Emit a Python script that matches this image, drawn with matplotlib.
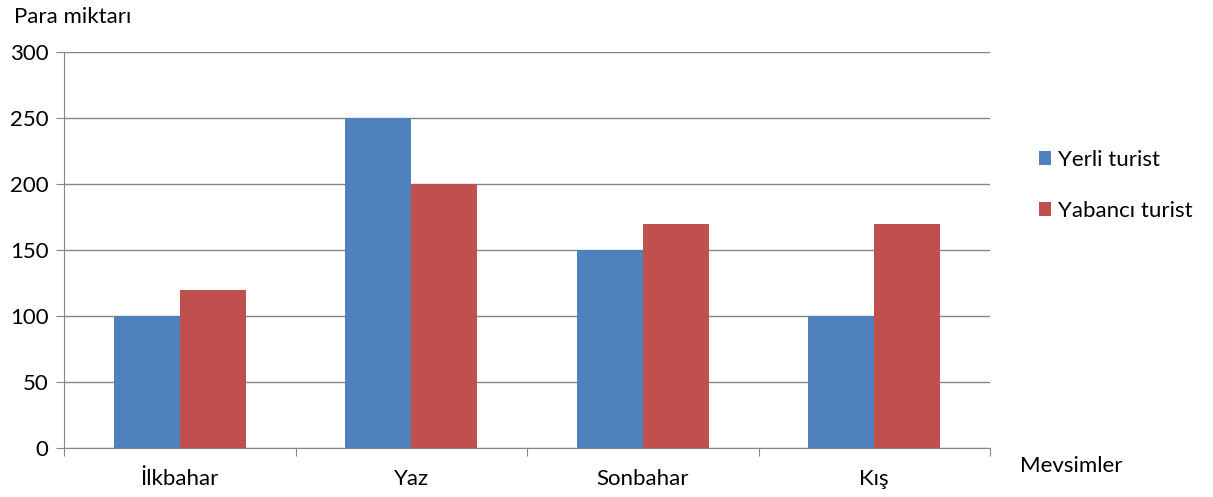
import numpy as np
import matplotlib
matplotlib.use("Agg")
import matplotlib.pyplot as plt

plt.rcParams["font.family"] = ["Lato", "DejaVu Sans"]

seasons = ["İlkbahar", "Yaz", "Sonbahar", "Kış"]
yerli = [100, 250, 150, 100]
yabanci = [120, 200, 170, 170]
series_names = ["Yerli turist", "Yabancı turist"]
y_ticks = [0, 50, 100, 150, 200, 250, 300]

BLUE = "#4F81BD"
RED = "#C0504D"
GRID = "#868686"
FS = 16

fig = plt.figure(figsize=(12.13, 4.97), dpi=100)
ax = fig.add_axes([64 / 1213, 1 - 448 / 497, (990 - 64) / 1213, (448 - 52) / 497])

x = np.arange(len(seasons))
w = 1 / 3.5
ax.bar(x - w / 2, yerli, w, color=BLUE, label=series_names[0], zorder=3)
ax.bar(x + w / 2, yabanci, w, color=RED, label=series_names[1], zorder=3)

ax.set_xlim(-0.5, len(seasons) - 0.5)
ax.set_ylim(0, 300)
ax.set_yticks(y_ticks)
ax.yaxis.grid(True, color=GRID, lw=1, zorder=0)
ax.set_axisbelow(True)

# category boundary ticks on x axis, labels centered
ax.set_xticks(np.arange(len(seasons) + 1) - 0.5)
ax.set_xticklabels([])
ax.set_xticks(x, minor=True)
ax.set_xticklabels(seasons, minor=True)
ax.tick_params(axis="x", which="minor", length=0, pad=15, labelsize=FS)
ax.tick_params(axis="x", which="major", length=6, color=GRID)
ax.tick_params(axis="y", length=6, color=GRID, labelsize=FS, pad=5)

for s in ["top", "right"]:
    ax.spines[s].set_visible(False)
for s in ["left", "bottom"]:
    ax.spines[s].set_color(GRID)

fig.text(14 / 1213, 1 - 17 / 497, "Para miktarı", fontsize=FS, va="center", ha="left")
fig.text(1020 / 1213, 1 - 466 / 497, "Mevsimler", fontsize=FS, va="center", ha="left")

fig.legend(loc="upper left", bbox_to_anchor=(1030 / 1213, 1 - 141 / 497),
           frameon=False, fontsize=FS, handlelength=0.55, handleheight=0.55,
           handletextpad=0.3, labelspacing=1.4, borderaxespad=0)

fig.savefig("out.png", dpi=100)
